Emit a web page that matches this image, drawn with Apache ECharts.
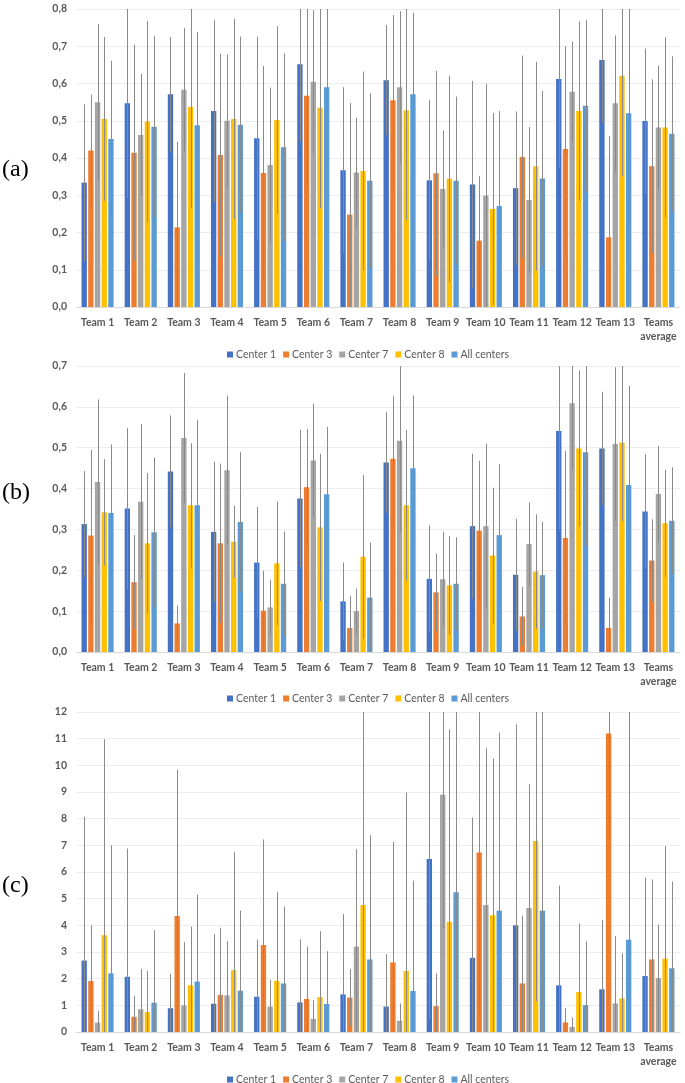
<!DOCTYPE html>
<html><head><meta charset="utf-8">
<script src="https://cdn.jsdelivr.net/npm/echarts@6/dist/echarts.min.js"></script>
<style>html,body{margin:0;padding:0;background:#fff}#c{width:685px;height:1083px}</style>
</head><body><div id="c"></div>
<script>
const categories = ['Team 1','Team 2','Team 3','Team 4','Team 5','Team 6','Team 7','Team 8','Team 9','Team 10','Team 11','Team 12','Team 13','Teams\naverage'];
const seriesNames = ['Center 1','Center 3','Center 7','Center 8','All centers'];

// Panel (a) tick labels / values / error half-widths (per center)
const yTicksA = [0,0.1,0.2,0.3,0.4,0.5,0.6,0.7,0.8];
const valA_c1 = [0.334,0.547,0.571,0.526,0.453,0.652,0.367,0.609,0.340,0.329,0.319,0.612,0.663,0.499];
const valA_c3 = [0.420,0.414,0.214,0.408,0.360,0.567,0.248,0.555,0.359,0.178,0.403,0.424,0.187,0.378];
const valA_c7 = [0.550,0.462,0.583,0.500,0.381,0.605,0.361,0.590,0.317,0.299,0.287,0.578,0.547,0.482];
const valA_c8 = [0.505,0.498,0.537,0.505,0.502,0.535,0.365,0.528,0.344,0.263,0.378,0.526,0.621,0.482];
const valA_all = [0.451,0.484,0.488,0.489,0.429,0.590,0.339,0.571,0.339,0.271,0.345,0.540,0.520,0.465];
const errA_c1 = [0.21,0.254,0.154,0.244,0.273,0.208,0.223,0.148,0.216,0.278,0.206,0.238,0.168,0.195];
const errA_c3 = [0.15,0.29,0.23,0.272,0.287,0.244,0.30,0.229,0.275,0.173,0.272,0.276,0.272,0.233];
const errA_c7 = [0.21,0.164,0.166,0.178,0.208,0.192,0.147,0.204,0.157,0.30,0.196,0.135,0.182,0.166];
const errA_c8 = [0.22,0.27,0.272,0.269,0.252,0.27,0.267,0.295,0.277,0.258,0.28,0.241,0.27,0.242];
const errA_all = [0.21,0.243,0.25,0.237,0.252,0.224,0.235,0.219,0.226,0.255,0.235,0.23,0.284,0.208];

// Panel (b)
const yTicksB = [0,0.1,0.2,0.3,0.4,0.5,0.6,0.7];
const valB_c1 = [0.313,0.351,0.442,0.294,0.219,0.376,0.124,0.464,0.179,0.308,0.189,0.541,0.498,0.344];
const valB_c3 = [0.285,0.171,0.070,0.266,0.101,0.403,0.059,0.473,0.146,0.297,0.087,0.279,0.059,0.224];
const valB_c7 = [0.416,0.368,0.524,0.445,0.109,0.469,0.100,0.517,0.178,0.308,0.264,0.609,0.509,0.387];
const valB_c8 = [0.342,0.266,0.359,0.270,0.217,0.305,0.233,0.359,0.163,0.236,0.197,0.498,0.513,0.315];
const valB_all = [0.340,0.293,0.359,0.318,0.167,0.386,0.133,0.450,0.167,0.286,0.188,0.489,0.409,0.321];
const errB_c1 = [0.13,0.197,0.137,0.172,0.136,0.168,0.095,0.123,0.131,0.177,0.137,0.241,0.139,0.14];
const errB_c3 = [0.21,0.115,0.044,0.195,0.098,0.143,0.078,0.153,0.095,0.171,0.072,0.213,0.074,0.101];
const errB_c7 = [0.202,0.19,0.159,0.182,0.068,0.139,0.055,0.225,0.116,0.202,0.102,0.16,0.188,0.117];
const errB_c8 = [0.13,0.172,0.152,0.088,0.151,0.18,0.2,0.184,0.121,0.166,0.14,0.191,0.192,0.131];
const errB_all = [0.168,0.183,0.209,0.171,0.128,0.165,0.135,0.178,0.114,0.174,0.13,0.229,0.242,0.131];

// Panel (c)
const yTicksC = [0,1,2,3,4,5,6,7,8,9,10,11,12];
const valC_c1 = [2.68,2.07,0.89,1.06,1.32,1.11,1.41,0.95,6.49,2.78,4.00,1.75,1.60,2.10];
const valC_c3 = [1.91,0.57,4.35,1.39,3.26,1.24,1.29,2.61,0.97,6.73,1.82,0.36,11.19,2.72];
const valC_c7 = [0.35,0.85,1.00,1.37,0.95,0.49,3.20,0.42,8.90,4.76,4.65,0.19,1.07,2.02];
const valC_c8 = [3.63,0.75,1.75,2.32,1.92,1.31,4.76,2.29,4.13,4.38,7.16,1.50,1.26,2.75];
const valC_all = [2.20,1.10,1.89,1.55,1.82,1.05,2.72,1.54,5.24,4.55,4.55,1.01,3.46,2.39];
const errC_c1 = [5.39,4.81,1.28,2.61,2.15,2.37,3.02,1.97,6.0,5.26,7.54,3.74,2.6,3.69];
const errC_c3 = [2.1,0.78,5.49,2.52,3.96,1.96,1.07,4.52,1.23,6.0,2.54,0.53,4.0,3.0];
const errC_c7 = [0.44,1.51,2.37,2.04,1.0,0.71,3.66,0.65,5.0,5.88,4.64,0.36,2.53,2.01];
const errC_c8 = [7.35,1.54,2.2,4.42,3.32,2.47,8.0,6.69,7.22,5.88,6.0,2.57,1.69,4.22];
const errC_all = [4.8,2.72,3.27,3.0,2.88,1.98,4.66,4.14,7.5,6.68,8.0,2.39,9.0,3.25];

const colors = ['#4472C4','#ED7D31','#A5A5A5','#FFC000','#5B9BD5'];
const panels = [
  {vals:[valA_c1,valA_c3,valA_c7,valA_c8,valA_all], errs:[errA_c1,errA_c3,errA_c7,errA_c8,errA_all], ticks:yTicksA, dec:1},
  {vals:[valB_c1,valB_c3,valB_c7,valB_c8,valB_all], errs:[errB_c1,errB_c3,errB_c7,errB_c8,errB_all], ticks:yTicksB, dec:1},
  {vals:[valC_c1,valC_c3,valC_c7,valC_c8,valC_all], errs:[errC_c1,errC_c3,errC_c7,errC_c8,errC_all], ticks:yTicksC, dec:0}
];
const gridPos = [{top:9,height:298},{top:366,height:286},{top:712,height:320}];
const legendTop = [344,688,1069];
const labelY = [172,495,888];
const panelLabels = ['(a)','(b)','(c)'];

const BW = 0.124, GAP = 0.25;
const txt = '#595959';
const font = 'Lato, "Open Sans", sans-serif';

const option = {
  animation:false,
  color: colors,
  grid: gridPos.map(g => ({left:76,right:5,top:g.top,height:g.height})),
  xAxis: panels.map((p,i) => ({
    type:'category', gridIndex:i, data:categories,
    axisTick:{show:false},
    axisLine:{lineStyle:{color:'#D9D9D9'}},
    axisLabel:{interval:0,color:txt,fontSize:10.5,fontWeight:'bold',fontFamily:font,margin:9,lineHeight:14}
  })),
  yAxis: panels.map((p,i) => ({
    type:'value', gridIndex:i, min:p.ticks[0], max:p.ticks[p.ticks.length-1], interval:p.ticks[1]-p.ticks[0],
    axisLine:{show:false}, axisTick:{show:false},
    splitLine:{lineStyle:{color:'#EDEDED'}},
    axisLabel:{color:txt,fontSize:10.5,fontWeight:'bold',fontFamily:font,margin:9,
      formatter:v => v.toFixed(p.dec).replace('.',',')}
  })),
  legend: legendTop.map(t => ({
    top:t, left:222, data:seriesNames, selectedMode:false,
    icon:'rect', itemWidth:6, itemHeight:6, itemGap:7,
    textStyle:{color:txt,fontSize:10.5,fontFamily:font,padding:[0,0,0,-2]}
  })),
  graphic: panelLabels.map((s,i) => ({
    type:'text', left:2, top:labelY[i]-14,
    style:{text:s, font:'24px "Liberation Serif", serif', fill:'#000'}
  })),
  series: []
};

panels.forEach((p,pi) => {
  p.vals.forEach((arr,k) => {
    option.series.push({
      type:'bar', name:seriesNames[k], xAxisIndex:pi, yAxisIndex:pi,
      data:arr, barWidth:(BW*100)+'%', barGap:(GAP*100)+'%',
      itemStyle:{color:colors[k]}
    });
  });
  const ymax = p.ticks[p.ticks.length-1];
  const errData = [];
  p.vals.forEach((arr,k) => arr.forEach((v,ci) => errData.push([ci, v, p.errs[k][ci], k])));
  option.series.push({
    type:'custom', name:'err'+pi, xAxisIndex:pi, yAxisIndex:pi, z:5, clip:true,
    encode:{x:0,y:1},
    data:errData,
    renderItem:function(params, api){
      const ci = api.value(0), v = api.value(1), e = api.value(2), k = api.value(3);
      const catW = api.size([1,0])[0];
      const bw = catW*BW;
      const off = (k-2)*bw*(1+GAP);
      const hi = Math.min(v+e, ymax), lo = Math.max(v-e, 0);
      const p1 = api.coord([ci, hi]), p2 = api.coord([ci, lo]);
      const x = Math.round(p1[0]+off)+0.5;
      return {type:'line', shape:{x1:x,y1:p1[1],x2:x,y2:p2[1]}, style:{stroke:'#8a8a8a',lineWidth:1}};
    }
  });
});

const chart = echarts.init(document.getElementById('c'));
chart.setOption(option);
</script>
</body></html>
